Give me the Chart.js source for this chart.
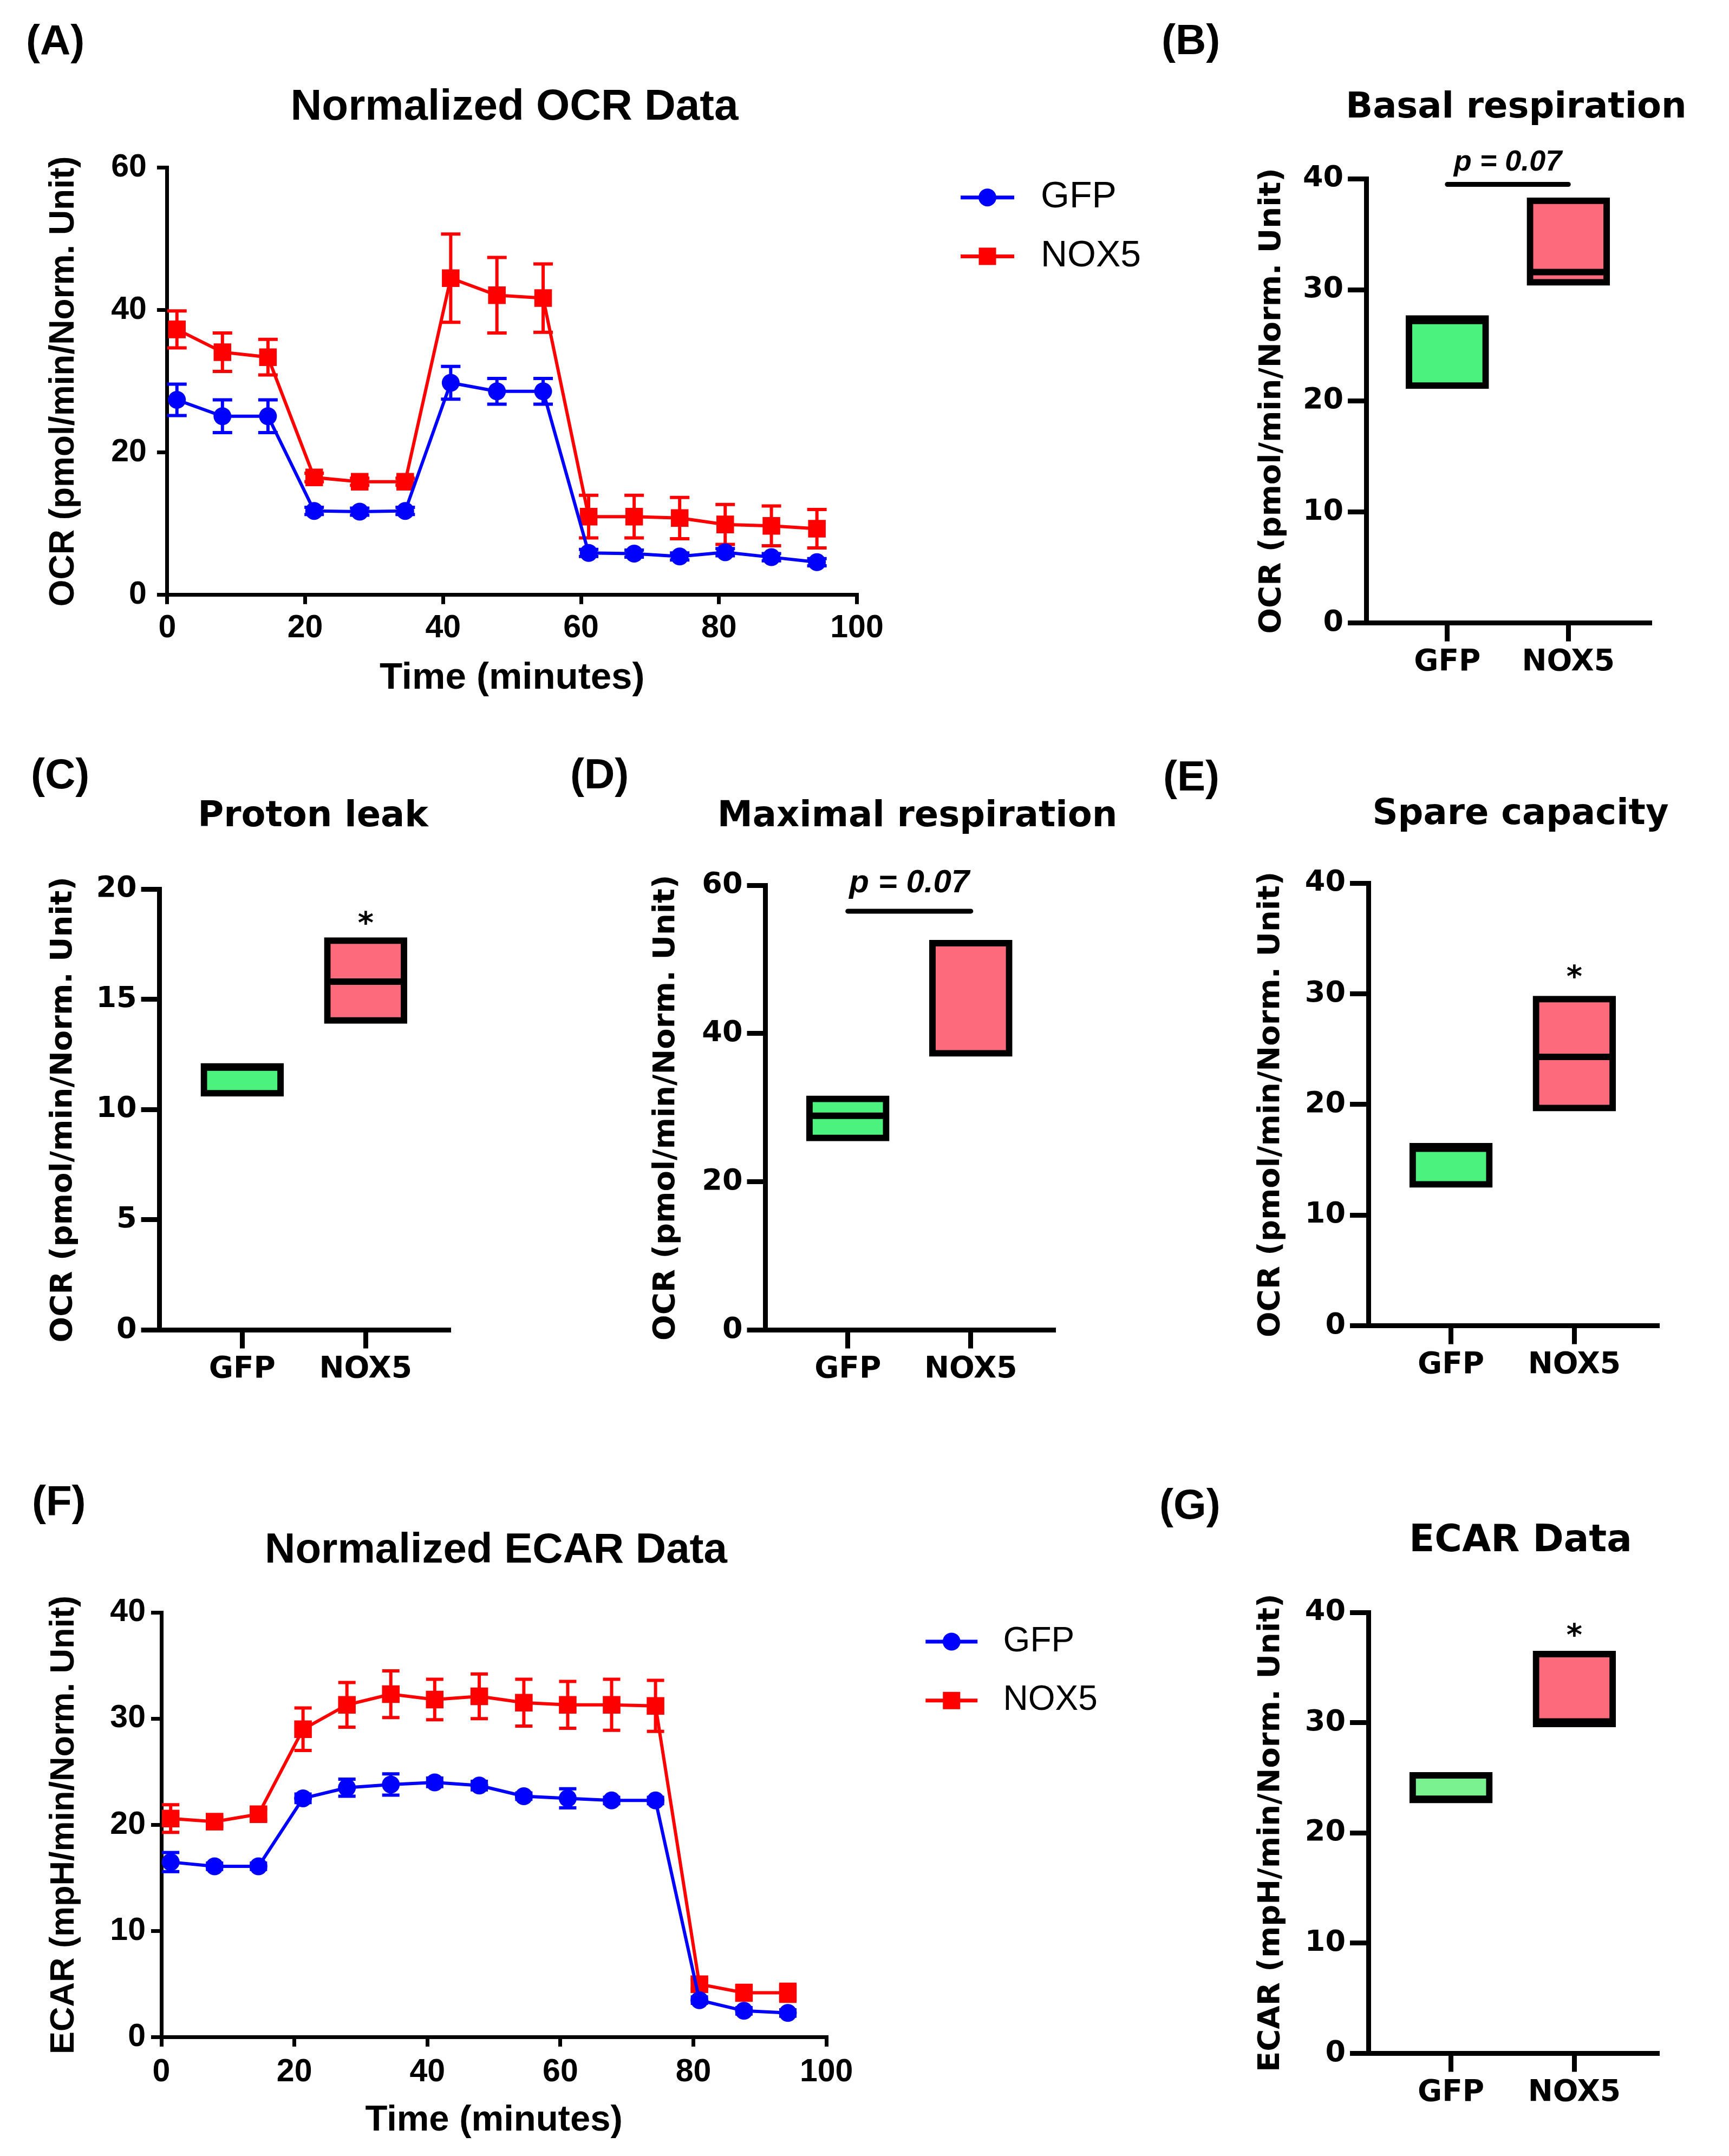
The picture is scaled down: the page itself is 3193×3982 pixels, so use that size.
<!DOCTYPE html>
<html>
<head>
<meta charset="utf-8">
<script src="https://cdn.jsdelivr.net/npm/chart.js@4.4.1/dist/chart.umd.min.js"></script>
<style>
  html, body { margin: 0; padding: 0; background: #fff; }
  #page { position: relative; width: 3193px; height: 3982px; overflow: hidden; background: #fff; }
  #page canvas { position: absolute; }
  .lbl { position: absolute; font-family: 'Liberation Sans', Arial, sans-serif; font-weight: bold;
         font-size: 78px; line-height: 1; white-space: nowrap; color: #000; }
  .ttl { position: absolute; line-height: 1; white-space: nowrap; font-weight: bold; color: #000;
         transform: translate(-50%, -50%); }
  .arial { font-family: 'Liberation Sans', Arial, sans-serif; }
  .dejavu { font-family: 'DejaVu Sans', Verdana, sans-serif; }
</style>
</head>
<body>
<div id="page">
  <div class="lbl" style="left:48px;top:35px">(A)</div>
  <div class="lbl" style="left:2145px;top:34px">(B)</div>
  <div class="lbl" style="left:57px;top:1390px">(C)</div>
  <div class="lbl" style="left:1053px;top:1390px">(D)</div>
  <div class="lbl" style="left:2148px;top:1394px">(E)</div>
  <div class="lbl" style="left:59px;top:2733px">(F)</div>
  <div class="lbl" style="left:2141px;top:2739px">(G)</div>

  <div class="ttl arial" style="left:950px;top:194px;font-size:80px">Normalized OCR Data</div>
  <div class="ttl dejavu" style="left:2800px;top:195px;font-size:65.5px">Basal respiration</div>
  <div class="ttl dejavu" style="left:578px;top:1504px;font-size:65.5px">Proton leak</div>
  <div class="ttl dejavu" style="left:1694px;top:1504px;font-size:65.5px">Maximal respiration</div>
  <div class="ttl dejavu" style="left:2808px;top:1500px;font-size:65.5px">Spare capacity</div>
  <div class="ttl arial" style="left:916px;top:2859px;font-size:78px">Normalized ECAR Data</div>
  <div class="ttl dejavu" style="left:2808px;top:2841px;font-size:69px">ECAR Data</div>
</div>
<script>
// time course (minutes) shared by both Seahorse runs
var timeMin = [1.4, 8.0, 14.6, 21.3, 27.9, 34.5, 41.1, 47.8, 54.5, 61.1, 67.7, 74.3, 80.9, 87.6, 94.2];

var ocrGfp = [27.4, 25.1, 25.1, 11.8, 11.7, 11.8, 29.8, 28.6, 28.6, 5.9, 5.8, 5.4, 6.0, 5.3, 4.6];
var ocrGfpErr = [2.2, 2.3, 2.3, 0.5, 0.5, 0.5, 2.3, 1.8, 1.8, 0.5, 0.5, 0.5, 0.5, 0.5, 0.5];
var ocrNox5 = [37.3, 34.1, 33.4, 16.5, 15.9, 15.9, 44.5, 42.1, 41.7, 11.0, 11.0, 10.8, 9.9, 9.7, 9.3];
var ocrNox5Err = [2.6, 2.7, 2.5, 0.6, 0.5, 0.5, 6.2, 5.3, 4.8, 3.0, 3.0, 2.9, 2.8, 2.8, 2.7];

var ecarGfp = [16.5, 16.1, 16.1, 22.5, 23.5, 23.8, 24.0, 23.7, 22.7, 22.5, 22.3, 22.3, 3.5, 2.5, 2.3];
var ecarGfpErr = [0.9, 0.3, 0.3, 0.4, 0.8, 1.0, 0.4, 0.4, 0.3, 0.9, 0.3, 0.3, 0.3, 0.3, 0.3];
var ecarNox5 = [20.6, 20.3, 21.0, 29.0, 31.3, 32.3, 31.8, 32.1, 31.5, 31.3, 31.3, 31.2, 5.0, 4.2, 4.2];
var ecarNox5Err = [1.3, 0.4, 0.5, 2.0, 2.1, 2.2, 1.9, 2.1, 2.2, 2.2, 2.4, 2.4, 0.4, 0.7, 0.8];

// floating bars: [min, max] and the line inside
var groups = ['GFP', 'NOX5'];
var basalRange = [[21.1, 27.7], [30.4, 38.3]];
var basalLine = [27.2, 31.6];
var leakRange = [[10.6, 12.1], [13.9, 17.8]];
var leakLine = [11.9, 15.8];
var maximalRange = [[25.5, 31.6], [36.9, 52.6]];
var maximalLine = [28.9, null];
var spareRange = [[12.5, 16.5], [19.4, 29.8]];
var spareLine = [16.0, 24.3];
var ecarRange = [[22.7, 25.5], [29.6, 36.5]];
var ecarLine = [23.1, 30.1];

var BLUE = '#0000ff', RED = '#ff0000', BLACK = '#000';
var ARIAL = "'Liberation Sans', Arial, sans-serif";
var DEJAVU = "'DejaVu Sans', Verdana, sans-serif";

function makeCanvas(g) {
    var c = document.createElement('canvas');
    c.width = g.w;
    c.height = g.h;
    c.style.left = g.left + 'px';
    c.style.top = g.top + 'px';
    c.style.width = g.w + 'px';
    c.style.height = g.h + 'px';
    document.getElementById('page').appendChild(c);
    return c;
}

// error bars, drawn under the markers
var errorBars = {
    id: 'errorBars',
    beforeDatasetsDraw: function(chart, args, opts) {
        var ctx = chart.ctx, xs = chart.scales.x, ys = chart.scales.y;
        chart.data.datasets.forEach(function(ds) {
            if (!ds.errors) return;
            ctx.save();
            ctx.strokeStyle = ds.borderColor;
            ctx.lineWidth = opts.width || 6;
            ds.data.forEach(function(p, j) {
                var e = ds.errors[j];
                var px = xs.getPixelForValue(p.x);
                var top = ys.getPixelForValue(p.y + e), bot = ys.getPixelForValue(p.y - e);
                var cap = opts.cap || 18;
                ctx.beginPath();
                ctx.moveTo(px, top); ctx.lineTo(px, bot);
                ctx.moveTo(px - cap, top); ctx.lineTo(px + cap, top);
                ctx.moveTo(px - cap, bot); ctx.lineTo(px + cap, bot);
                ctx.stroke();
            });
            ctx.restore();
        });
    }
};

// GraphPad style legend: line with the marker in the middle
var sideLegend = {
    id: 'sideLegend',
    afterDraw: function(chart, args, o) {
        var ctx = chart.ctx;
        chart.data.datasets.forEach(function(ds, i) {
            var yy = o.y + i * o.gap;
            var cx = (o.x0 + o.x1) / 2;
            ctx.save();
            ctx.strokeStyle = ds.borderColor;
            ctx.lineWidth = 7;
            ctx.beginPath();
            ctx.moveTo(o.x0, yy);
            ctx.lineTo(o.x1, yy);
            ctx.stroke();
            ctx.fillStyle = ds.borderColor;
            if (ds.pointStyle === 'rect') {
                ctx.fillRect(cx - 16, yy - 16, 32, 32);
            } else {
                ctx.beginPath();
                ctx.arc(cx, yy, 16.5, 0, Math.PI * 2);
                ctx.fill();
            }
            ctx.fillStyle = BLACK;
            ctx.font = o.size + 'px ' + ARIAL;
            ctx.textAlign = 'left';
            ctx.textBaseline = 'middle';
            ctx.fillText(ds.label, o.textX, yy);
            ctx.restore();
        });
    }
};

// vertical axis title, centred on the plot, not squeezed to the axis length
var yTitle = {
    id: 'yTitle',
    afterDraw: function(chart, args, o) {
        var ctx = chart.ctx, a = chart.chartArea;
        ctx.save();
        ctx.translate(o.x, (a.top + a.bottom) / 2);
        ctx.rotate(-Math.PI / 2);
        ctx.font = 'bold ' + o.size + 'px ' + o.family;
        ctx.fillStyle = BLACK;
        ctx.textAlign = 'center';
        ctx.textBaseline = 'middle';
        ctx.fillText(o.text, 0, 0);
        ctx.restore();
    }
};

// p-value brackets and asterisks
var sigMarks = {
    id: 'sigMarks',
    afterDatasetsDraw: function(chart, args, opts) {
        var ctx = chart.ctx, xs = chart.scales.x, ys = chart.scales.y;
        (opts.marks || []).forEach(function(m) {
            ctx.save();
            ctx.fillStyle = BLACK;
            ctx.strokeStyle = BLACK;
            if (m.lineY != null) {
                ctx.lineWidth = 9;
                ctx.lineCap = 'round';
                ctx.beginPath();
                ctx.moveTo(xs.getPixelForValue(0), ys.getPixelForValue(m.lineY));
                ctx.lineTo(xs.getPixelForValue(1), ys.getPixelForValue(m.lineY));
                ctx.stroke();
            }
            var shift;
            if (m.star) {
                ctx.font = 'bold ' + m.size + 'px ' + DEJAVU;
                shift = 0.57 * m.size;
            } else {
                ctx.font = 'italic bold ' + m.size + 'px ' + ARIAL;
                shift = 0.36 * m.size;
            }
            ctx.textAlign = 'center';
            ctx.textBaseline = 'alphabetic';
            ctx.fillText(m.text, xs.getPixelForValue(m.x), ys.getPixelForValue(m.y) + shift);
            ctx.restore();
        });
    }
};

function axisStyle(width, tickLen) {
    return {
        grid: { drawOnChartArea: false, drawTicks: true, tickLength: tickLen, color: BLACK,
                lineWidth: width, offset: false },
        border: { display: true, color: BLACK, width: width }
    };
}

function timePanel(g) {
    var pts = function(vals) { return timeMin.map(function(t, i) { return { x: t, y: vals[i] }; }); };
    var xa = axisStyle(7, 17), ya = axisStyle(7, 19);
    return new Chart(makeCanvas(g), {
        type: 'line',
        data: {
            datasets: [{
                label: 'GFP',
                data: pts(g.gfp),
                errors: g.gfpErr,
                borderColor: BLUE,
                backgroundColor: BLUE,
                borderWidth: 6,
                pointStyle: 'circle',
                pointRadius: 16.5,
                pointBorderWidth: 0,
                tension: 0,
                clip: false
            }, {
                label: 'NOX5',
                data: pts(g.nox),
                errors: g.noxErr,
                borderColor: RED,
                backgroundColor: RED,
                borderWidth: 6,
                pointStyle: 'rect',
                pointRadius: 23,
                pointBorderWidth: 0,
                tension: 0,
                clip: false
            }]
        },
        options: {
            responsive: false,
            animation: false,
            devicePixelRatio: 1,
            events: [],
            layout: { padding: g.pad },
            plugins: {
                legend: { display: false },
                tooltip: { enabled: false },
                errorBars: { cap: g.cap, width: 6 },
                sideLegend: g.legend,
                yTitle: { x: g.yTitleX, size: g.yTitleSize, family: ARIAL, text: g.yTitle }
            },
            scales: {
                x: {
                    type: 'linear', min: 0, max: 100,
                    afterFit: function(s) { s.height = g.xh; },
                    ticks: { stepSize: 20, color: BLACK, padding: g.xPad,
                             font: { family: ARIAL, weight: 'bold', size: 59 } },
                    title: { display: true, text: 'Time (minutes)', color: BLACK, padding: 0,
                             font: { family: ARIAL, weight: 'bold', size: g.xTitleSize } },
                    grid: xa.grid, border: xa.border
                },
                y: {
                    min: 0, max: g.yMax,
                    afterFit: function(s) { s.width = g.yw; },
                    ticks: { stepSize: g.yStep, color: BLACK, padding: g.yPad,
                             font: { family: ARIAL, weight: 'bold', size: 59 } },
                    grid: ya.grid, border: ya.border
                }
            }
        },
        plugins: [errorBars, sideLegend, yTitle]
    });
}

function barPanel(g) {
    var ax = axisStyle(9, 34);
    return new Chart(makeCanvas(g), {
        type: 'bar',
        data: {
            datasets: [{
                type: 'line',
                data: groups.map(function(n, i) { return { x: i, y: g.line[i] }; }),
                showLine: false,
                pointStyle: 'line',
                pointRadius: 70,
                pointBorderWidth: 12,
                pointBorderColor: BLACK,
                pointBackgroundColor: BLACK,
                order: 0
            }, {
                data: groups.map(function(n, i) { return { x: i, y: g.range[i] }; }),
                backgroundColor: [g.green, '#fd6a7b'],
                borderColor: BLACK,
                borderWidth: 12,
                borderSkipped: false,
                barThickness: 153,
                order: 1
            }]
        },
        options: {
            responsive: false,
            animation: false,
            devicePixelRatio: 1,
            events: [],
            layout: { padding: g.pad },
            plugins: {
                legend: { display: false },
                tooltip: { enabled: false },
                sigMarks: { marks: g.marks },
                yTitle: { x: g.yTitleX, size: g.yTitleSize, family: DEJAVU, text: g.yTitle }
            },
            scales: {
                x: {
                    type: 'linear', min: -0.67, max: 1.67, offset: false,
                    afterBuildTicks: function(s) { s.ticks = [{ value: 0 }, { value: 1 }]; },
                    afterFit: function(s) { s.height = g.xh; },
                    ticks: { color: BLACK, padding: 6, maxRotation: 0, autoSkip: false,
                             callback: function(v) { return groups[v]; },
                             font: { family: DEJAVU, weight: 'bold', size: 55 } },
                    grid: ax.grid, border: ax.border
                },
                y: {
                    min: 0, max: g.yMax,
                    afterFit: function(s) { s.width = g.yw; },
                    ticks: { stepSize: g.yStep, color: BLACK, padding: 8,
                             font: { family: DEJAVU, weight: 'bold', size: 54 } },
                    grid: ax.grid, border: ax.border
                }
            }
        },
        plugins: [sigMarks, yTitle]
    });
}

var OCR_UNIT = 'OCR (pmol/min/Norm. Unit)';
var ECAR_UNIT = 'ECAR (mpH/min/Norm. Unit)';
var GREEN = '#4bf27d';

// (A)
timePanel({
    left: 0, top: 0, w: 2130, h: 1294,
    pad: { left: 82.6, top: 309.9, right: 547.5, bottom: 0 },
    yw: 226.3, xh: 195.2, xPad: 10, yPad: 19, cap: 18,
    gfp: ocrGfp, gfpErr: ocrGfpErr, nox: ocrNox5, noxErr: ocrNox5Err,
    yMax: 60, yStep: 20, yTitle: OCR_UNIT, yTitleSize: 64, yTitleX: 118.6, xTitleSize: 69,
    legend: { x0: 1774, x1: 1873, textX: 1922, y: 364.7, gap: 108.7, size: 68 }
});

// (F)
timePanel({
    left: 0, top: 2700, w: 2130, h: 1257,
    pad: { left: 83.8, top: 278, right: 603.8, bottom: 0 },
    yw: 214.2, xh: 194.1, xPad: 12.5, yPad: 10, cap: 16,
    gfp: ecarGfp, gfpErr: ecarGfpErr, nox: ecarNox5, noxErr: ecarNox5Err,
    yMax: 40, yStep: 10, yTitle: ECAR_UNIT, yTitleSize: 63, yTitleX: 118.6, xTitleSize: 67,
    legend: { x0: 1709.3, x1: 1805.2, textX: 1852.6, y: 332, gap: 108.8, size: 64 }
});

// (B)
barPanel({
    left: 2130, top: 240, w: 998, h: 1021,
    pad: { left: 187.3, top: 90.2, right: 60.2, bottom: 0 }, yw: 205.8, xh: 110.4,
    range: basalRange, line: basalLine, green: GREEN,
    yMax: 40, yStep: 10, yTitle: OCR_UNIT, yTitleSize: 56, yTitleX: 219.1,
    marks: [{ lineY: 39.5, x: 0.5, y: 41.7, text: 'p = 0.07', size: 54 }]
});

// (C)
barPanel({
    left: 40, top: 1560, w: 870, h: 1007,
    pad: { left: 45.8, top: 77, right: 59.9, bottom: 0 }, yw: 208.8, xh: 110.5,
    range: leakRange, line: leakLine, green: GREEN,
    yMax: 20, yStep: 5, yTitle: OCR_UNIT, yTitleSize: 56, yTitleX: 77.6,
    marks: [{ star: true, x: 1, y: 18.8, text: '*', size: 56 }]
});

// (D)
barPanel({
    left: 1150, top: 1540, w: 877, h: 1027,
    pad: { left: 48.9, top: 95, right: 59.9, bottom: 0 }, yw: 214.6, xh: 110.5,
    range: maximalRange, line: maximalLine, green: GREEN,
    yMax: 60, yStep: 20, yTitle: OCR_UNIT, yTitleSize: 56, yTitleX: 80.7,
    marks: [{ lineY: 56.5, x: 0.5, y: 60.6, text: 'p = 0.07', size: 60 }]
});

// (E)
barPanel({
    left: 2130, top: 1540, w: 1012, h: 1019,
    pad: { left: 185.3, top: 91.1, right: 60.4, bottom: 0 }, yw: 211.7, xh: 110.4,
    range: spareRange, line: spareLine, green: GREEN,
    yMax: 40, yStep: 10, yTitle: OCR_UNIT, yTitleSize: 56, yTitleX: 217.1,
    marks: [{ star: true, x: 1, y: 32.2, text: '*', size: 56 }]
});

// (G)
barPanel({
    left: 2130, top: 2880, w: 1012, h: 1023,
    pad: { left: 186.5, top: 98, right: 60.4, bottom: 0 }, yw: 210.5, xh: 110.5,
    range: ecarRange, line: ecarLine, green: '#79f28f',
    yMax: 40, yStep: 10, yTitle: ECAR_UNIT, yTitleSize: 56, yTitleX: 217.1,
    marks: [{ star: true, x: 1, y: 38.6, text: '*', size: 56 }]
});
</script>
</body>
</html>
